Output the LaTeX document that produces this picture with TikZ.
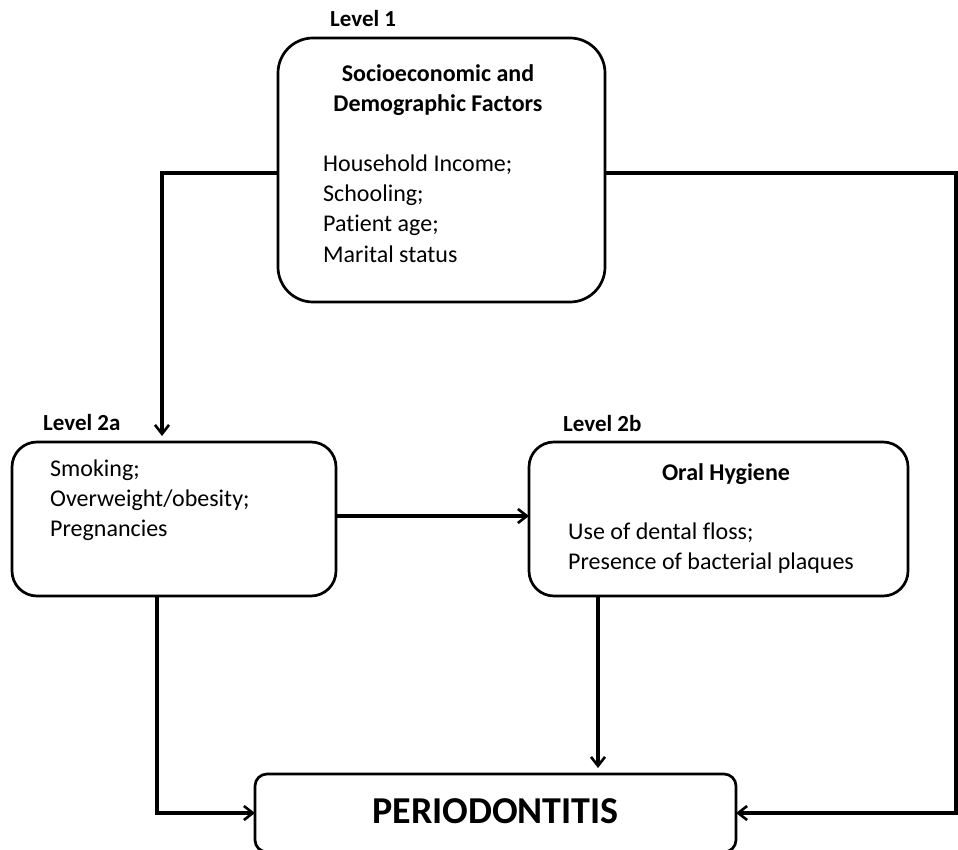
\documentclass[tikz,border=0pt]{standalone}
\usepackage{fontspec}
\setmainfont{Carlito}[Ligatures={NoCommon,NoRare,NoContextual}]
\usetikzlibrary{arrows.meta}
\tikzset{
  box/.style={draw=black, line width=2.7pt, inner sep=0pt, outer sep=0pt, fill=white},
  body/.style={inner sep=0pt, font=\fontsize{24}{30}\selectfont},
  title/.style={inner sep=0pt, font=\fontsize{24}{30}\selectfont\bfseries},
  lvl/.style={inner sep=0pt, font=\fontsize{23}{28}\selectfont\bfseries, anchor=base west},
  conn/.style={draw=black, line width=3.7pt},
  arr/.style={conn, -{Straight Barb[length=9pt,width=14pt,line width=2.6pt]}}
}
\begin{document}
\begin{tikzpicture}[x=1pt,y=-1pt]
\useasboundingbox (0,0) rectangle (958,850);
\fill[white] (0,0) rectangle (958,850);

% boxes
\node[box, rounded corners=35pt, minimum width=327pt, minimum height=264pt] (l1) at (441.5,170) {};
\node[box, rounded corners=25pt, minimum width=324pt, minimum height=154pt] (l2a) at (174,519) {};
\node[box, rounded corners=25pt, minimum width=379pt, minimum height=154pt] (l2b) at (718.5,519) {};
\node[box, rounded corners=12pt, minimum width=481pt, minimum height=78pt] (P) at (495.5,813) {};

% level labels
\node[lvl] (lab1) at (330,27) {Level 1};
\node[lvl] (lab2a) at (43,430) {Level 2a};
\node[lvl] (lab2b) at (563,431) {Level 2b};

% Level 1 text
\node[title, anchor=base] (t1a) at (438,82) {Socioeconomic and};
\node[title, anchor=base] (t1b) at (438,112) {Demographic Factors};
\node[body, anchor=base west] (b1a) at (323,172) {Household Income;};
\node[body, anchor=base west] (b1b) at (323,202) {Schooling;};
\node[body, anchor=base west] (b1c) at (323,232) {Pat\kern0pt ient age;};
\node[body, anchor=base west] (b1d) at (323,262) {Marital status};

% Level 2a text
\node[body, anchor=base west] (b2a) at (50,476) {Smoking;};
\node[body, anchor=base west] (b2b) at (50,506) {Overweight/obesity;};
\node[body, anchor=base west] (b2c) at (50,536) {Pregnancies};

% Level 2b text
\node[title, anchor=base] (t2) at (726,480) {Oral Hygiene};
\node[body, anchor=base west] (b3a) at (568,539) {Use of dental f\kern0pt loss;};
\node[body, anchor=base west] (b3b) at (568,569) {Presence of bacterial plaques};

% outcome text
\node[inner sep=0pt, font=\fontsize{38}{40}\selectfont\bfseries, anchor=base] (Pt) at (495.5,823) {PERIODONTITIS};

% connectors
\coordinate (lc) at (162,173);
\coordinate (rc) at (956,173);
\coordinate (a2) at ([xshift=145pt]l2a.south west);
\coordinate (b2) at ([xshift=69pt]l2b.south west);

\draw[arr, shorten >=6pt] (l1.west |- lc) -- (lc) -- (lc |- l2a.north);
\draw[arr] (l1.east |- rc) -- (rc) |- (P.east);
\draw[arr] ([yshift=3pt]l2a.east) -- ([yshift=3pt]l2b.west);
\draw[arr] (a2) |- (P.west);
\draw[arr, shorten >=6pt] (b2) -- (b2 |- P.north);
\end{tikzpicture}
\end{document}
